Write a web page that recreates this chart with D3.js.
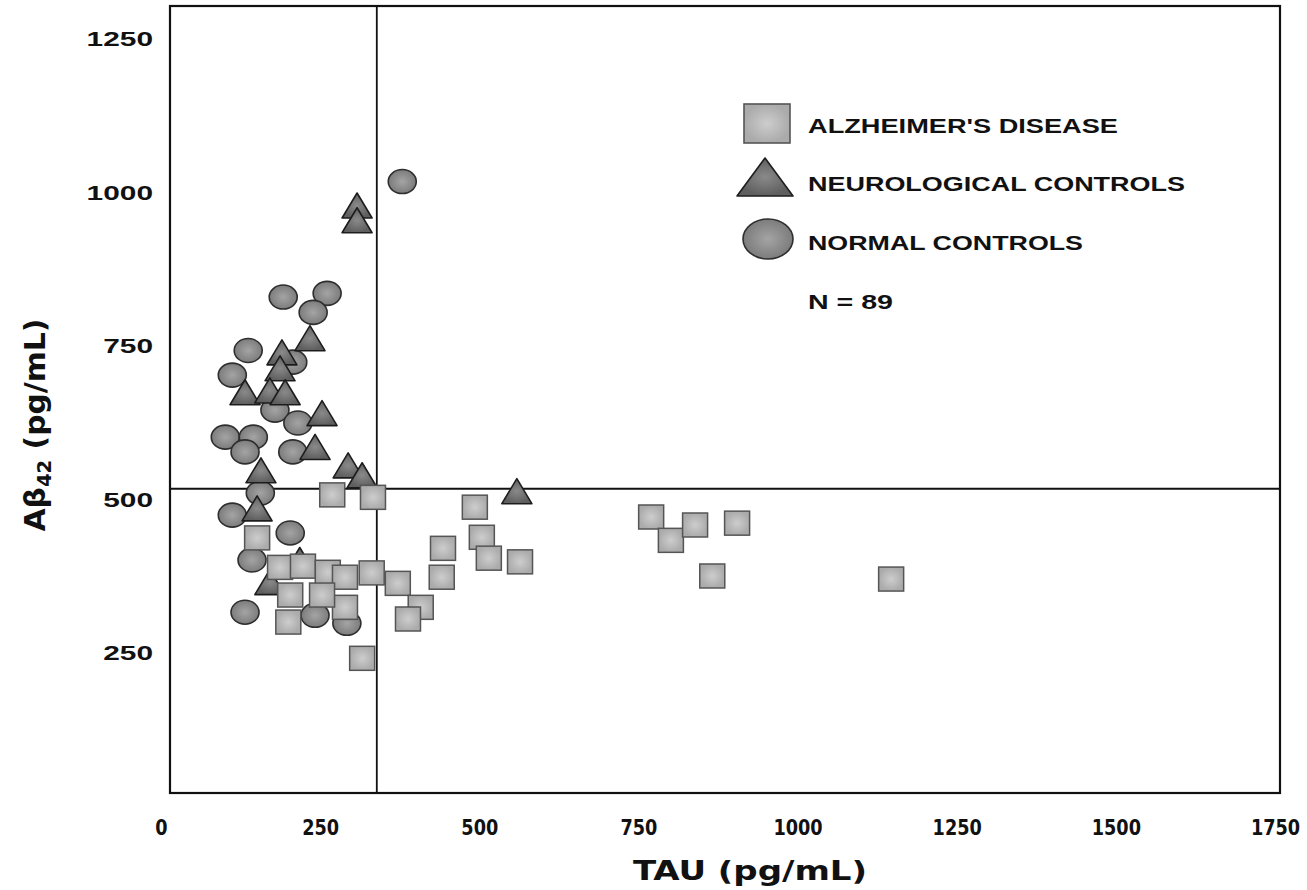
<!DOCTYPE html>
<html lang="en">
<head>
<meta charset="UTF-8">
<title>TAU vs Abeta42</title>
<script src="https://d3js.org/d3.v7.min.js"></script>
<style>
  body { margin: 0; background: #fff; }
  svg { display: block; }
  .xaxis text { font-family: "DejaVu Sans Condensed", "DejaVu Sans", sans-serif; font-weight: bold; font-size: 21px; fill: #111; }
  .yaxis text { font-family: "Liberation Sans", Arial, sans-serif; font-weight: bold; font-size: 20px; fill: #111; }
  .title { font-family: "DejaVu Sans Condensed", "DejaVu Sans", sans-serif; font-weight: bold; fill: #111; }
  .legend text { font-family: "Liberation Sans", Arial, sans-serif; font-weight: bold; font-size: 21px; fill: #111; }
</style>
</head>
<body>
<svg width="1307" height="890"></svg>
<script>
const xTicks = [0, 250, 500, 750, 1000, 1250, 1500, 1750];
const yTicks = [250, 500, 750, 1000, 1250];

// cut-off lines
const tauCut = 339;
const abCut = 518;

// Alzheimer's disease (squares)
const adTau = [151, 187, 223, 262, 289, 203, 200, 289, 253, 331, 372, 408, 388, 443, 441, 493, 504, 515, 564, 316, 269, 333, 770, 801, 839, 905, 866, 1147];
const adAb  = [438, 390, 392, 382, 374, 345, 301, 325, 345, 381, 364, 325, 306, 421, 374, 488, 439, 405, 399, 242, 508, 504, 472, 434, 459, 462, 376, 371];

// neurological controls (triangles)
const neuroTau = [308, 308, 234, 190, 187, 132, 171, 195, 253, 242, 157, 294, 316, 151, 171, 559, 218];
const neuroAb  = [979, 955, 763, 740, 714, 675, 678, 675, 641, 586, 548, 556, 540, 486, 366, 514, 402];

// normal controls (circles)
const normTau = [379, 192, 261, 239, 137, 207, 112, 179, 215, 101, 145, 132, 207, 156, 112, 203, 143, 132, 242, 292];
const normAb  = [1018, 830, 836, 805, 743, 724, 703, 646, 625, 602, 602, 578, 578, 511, 475, 446, 402, 317, 312, 299];

const legendLabels = ["ALZHEIMER'S DISEASE", "NEUROLOGICAL CONTROLS", "NORMAL CONTROLS", "N = 89"];

const frame = { left: 170, right: 1280, top: 6, bottom: 793 };

const svg = d3.select("svg");

const x = d3.scaleLinear().domain([0, 1750]).range([161, 1275]);
const y = d3.scaleLinear().domain([0, 1250]).range([807, 39]);

// gradients + soft edge filter (scanned look)
const defs = svg.append("defs");
function grad(id, inner, outer) {
  const g = defs.append("radialGradient").attr("id", id);
  g.append("stop").attr("offset", "0%").attr("stop-color", inner);
  g.append("stop").attr("offset", "100%").attr("stop-color", outer);
}
grad("gSq", "#cdcdcd", "#ababab");
grad("gTri", "#8a8a8a", "#5e5e5e");
grad("gCirc", "#a4a4a4", "#7c7c7c");
defs.append("filter").attr("id", "soft")
  .append("feGaussianBlur").attr("stdDeviation", 0.7);

// frame
svg.append("rect")
  .attr("x", frame.left).attr("y", frame.top)
  .attr("width", frame.right - frame.left)
  .attr("height", frame.bottom - frame.top)
  .attr("fill", "none").attr("stroke", "#111").attr("stroke-width", 2.2);

// cut-off lines
svg.append("line")
  .attr("x1", x(tauCut)).attr("x2", x(tauCut))
  .attr("y1", frame.top).attr("y2", frame.bottom)
  .attr("stroke", "#111").attr("stroke-width", 1.8);
svg.append("line")
  .attr("x1", frame.left).attr("x2", frame.right)
  .attr("y1", y(abCut)).attr("y2", y(abCut))
  .attr("stroke", "#111").attr("stroke-width", 1.8);

const marks = svg.append("g").attr("filter", "url(#soft)");

// normal controls
marks.selectAll(".norm")
  .data(d3.zip(normTau, normAb))
  .join("ellipse")
  .attr("class", "norm")
  .attr("cx", d => x(d[0])).attr("cy", d => y(d[1]))
  .attr("rx", 14).attr("ry", 12)
  .attr("fill", "url(#gCirc)").attr("stroke", "#2e2e2e").attr("stroke-width", 1.6);

// neurological controls
marks.selectAll(".neuro")
  .data(d3.zip(neuroTau, neuroAb))
  .join("path")
  .attr("class", "neuro")
  .attr("d", d => {
    const cx = x(d[0]), cy = y(d[1]);
    return `M${cx},${cy - 12.5}L${cx + 15},${cy + 12.5}L${cx - 15},${cy + 12.5}Z`;
  })
  .attr("fill", "url(#gTri)").attr("stroke", "#1e1e1e").attr("stroke-width", 1.6)
  .attr("stroke-linejoin", "round");

// alzheimer's disease
marks.selectAll(".ad")
  .data(d3.zip(adTau, adAb))
  .join("rect")
  .attr("class", "ad")
  .attr("x", d => x(d[0]) - 12.5).attr("y", d => y(d[1]) - 12)
  .attr("width", 25).attr("height", 24)
  .attr("fill", "url(#gSq)").attr("stroke", "#555").attr("stroke-width", 1.5);

// axes
const xAxis = svg.append("g")
  .attr("class", "xaxis")
  .attr("transform", "translate(0,820)")
  .call(d3.axisBottom(x).tickValues(xTicks).tickSize(0).tickPadding(0).tickFormat(d3.format("d")));
xAxis.select(".domain").remove();
xAxis.selectAll("text")
  .attr("textLength", d => String(d).length * 12.3)
  .attr("lengthAdjust", "spacingAndGlyphs");

const yAxis = svg.append("g")
  .attr("class", "yaxis")
  .attr("transform", "translate(153,0)")
  .call(d3.axisLeft(y).tickValues(yTicks).tickSize(0).tickPadding(0).tickFormat(d3.format("d")));
yAxis.select(".domain").remove();
yAxis.selectAll("text")
  .attr("textLength", d => String(d).length * 16.6)
  .attr("lengthAdjust", "spacingAndGlyphs");

// axis titles
svg.append("text")
  .attr("class", "title")
  .attr("x", 750).attr("y", 880)
  .attr("text-anchor", "middle")
  .attr("font-size", 27)
  .attr("textLength", 234).attr("lengthAdjust", "spacingAndGlyphs")
  .text("TAU (pg/mL)");

const yt = svg.append("text")
  .attr("class", "title")
  .attr("transform", "translate(45,425) rotate(-90)")
  .attr("text-anchor", "middle")
  .attr("font-size", 29)
  .attr("textLength", 213).attr("lengthAdjust", "spacingAndGlyphs");
yt.append("tspan").text("Aβ");
yt.append("tspan").attr("font-size", 19).attr("dy", 6).text("42");
yt.append("tspan").attr("dy", -6).text(" (pg/mL)");

// legend
const legend = svg.append("g").attr("class", "legend");
const lg = legend.append("g").attr("filter", "url(#soft)");
lg.append("rect")
  .attr("x", 744).attr("y", 104).attr("width", 46).attr("height", 39)
  .attr("fill", "url(#gSq)").attr("stroke", "#555").attr("stroke-width", 1.6);
lg.append("path")
  .attr("d", "M765,158L793,196L737,196Z")
  .attr("fill", "url(#gTri)").attr("stroke", "#1e1e1e").attr("stroke-width", 1.6)
  .attr("stroke-linejoin", "round");
lg.append("ellipse")
  .attr("cx", 768).attr("cy", 239).attr("rx", 25).attr("ry", 20)
  .attr("fill", "url(#gCirc)").attr("stroke", "#2e2e2e").attr("stroke-width", 1.6);

const legendBase = [133, 191, 250, 309];
const legendLen = [310, 377, 275, 85];
legend.selectAll("text")
  .data(legendLabels)
  .join("text")
  .attr("x", 808)
  .attr("y", (d, i) => legendBase[i])
  .attr("textLength", (d, i) => legendLen[i])
  .attr("lengthAdjust", "spacingAndGlyphs")
  .text(d => d);
</script>
</body>
</html>
